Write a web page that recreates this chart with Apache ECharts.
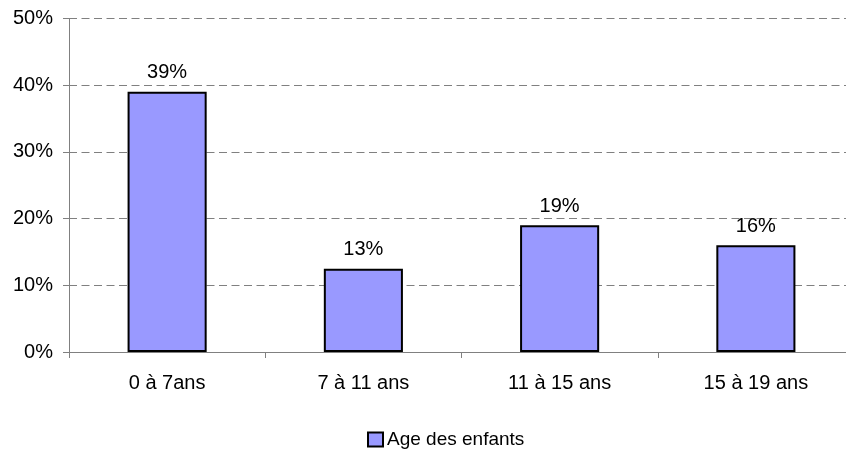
<!DOCTYPE html>
<html>
<head>
<meta charset="utf-8">
<script src="https://cdn.jsdelivr.net/npm/echarts@6/dist/echarts.min.js"></script>
<style>
  html, body { margin: 0; padding: 0; background: #fff; }
  #chart { width: 846px; height: 452px; }
</style>
</head>
<body>
<div id="chart"></div>
<script>
// données
const categories = ['0 à 7ans', '7 à 11 ans', '11 à 15 ans', '15 à 19 ans']
const values = [39, 12.5, 19, 16]
const yTicks = [0, 10, 20, 30, 40, 50]
const seriesName = 'Age des enfants'

const chart = echarts.init(document.getElementById('chart'))

const font = 'Liberation Sans, Arial, sans-serif'

const option = {
  animation: false,
  textStyle: { fontFamily: font, color: '#000' },
  grid: { left: 69, top: 18.5, width: 785, height: 333.5, outerBoundsMode: 'none' },
  legend: {
    top: 430,
    left: 367,
    padding: 0,
    itemWidth: 15,
    itemHeight: 14,
    itemGap: 4,
    icon: 'rect',
    itemStyle: { borderColor: '#000', borderWidth: 2 },
    textStyle: { fontFamily: font, fontSize: 19, color: '#000', padding: [0, 0, 0, -1] },
    data: [seriesName]
  },
  xAxis: {
    type: 'category',
    data: categories,
    axisLine: { lineStyle: { color: '#808080', width: 1 } },
    axisTick: { show: true, length: 6, lineStyle: { color: '#808080' } },
    axisLabel: { fontFamily: font, fontSize: 20, color: '#000', margin: 21 },
    splitLine: { show: false }
  },
  yAxis: {
    type: 'value',
    min: yTicks[0],
    max: yTicks[yTicks.length - 1],
    interval: 10,
    axisLine: { show: true, lineStyle: { color: '#808080', width: 1 } },
    axisTick: { show: true, length: 6, lineStyle: { color: '#808080' } },
    axisLabel: { fontFamily: font, fontSize: 20, color: '#000', margin: 16, formatter: '{value}%' },
    splitLine: { show: true, lineStyle: { color: '#808080', type: [8, 4.5], width: 1 } }
  },
  series: [{
    name: seriesName,
    type: 'bar',
    data: values,
    barWidth: '40.3%',
    itemStyle: { color: '#9999FF', borderColor: '#000', borderWidth: 2 },
    label: {
      show: true,
      position: 'top',
      distance: 9,
      fontFamily: font,
      fontSize: 20,
      color: '#000',
      formatter: (p) => Math.round(p.value) + '%'
    }
  }]
}

chart.setOption(option)
</script>
</body>
</html>
